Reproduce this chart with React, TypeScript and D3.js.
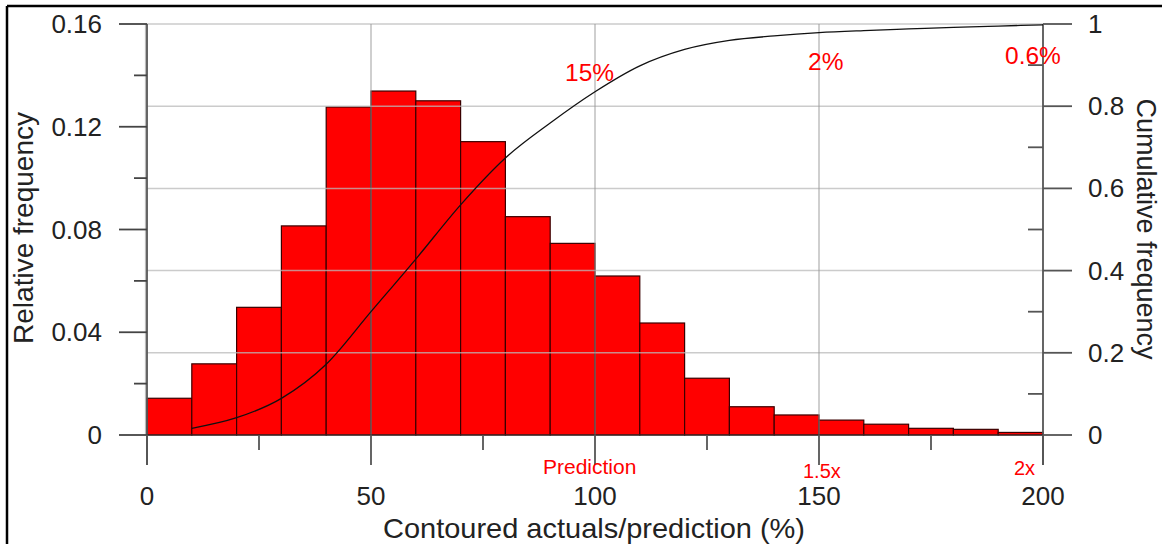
import React from "react";
import * as d3 from "d3";

// ---- data ----
const binStarts = [0, 10, 20, 30, 40, 50, 60, 70, 80, 90, 100, 110, 120, 130, 140, 150, 160, 170, 180, 190];
const binWidth = 10;
const relFreq = [0.0143, 0.0277, 0.0497, 0.0814, 0.1277, 0.1339, 0.1301, 0.1142, 0.085, 0.0746, 0.0619, 0.0436, 0.0221, 0.011, 0.0078, 0.0058, 0.0042, 0.0026, 0.0022, 0.001];
const cumX = [10, 20, 30, 40, 50, 60, 70, 80, 90, 100, 110, 120, 130, 140, 150, 160, 170, 180, 190, 200];
const cumFreq = [0.0163, 0.042, 0.089, 0.172, 0.3, 0.428, 0.56, 0.674, 0.759, 0.835, 0.898, 0.938, 0.96, 0.971, 0.979, 0.984, 0.988, 0.992, 0.995, 0.998];

const xMajorTicks = [0, 50, 100, 150, 200];
const xMinorTicks = [25, 75, 125, 175];
const xGridTicks = [50, 100, 150];
const leftMajorTicks = [0, 0.04, 0.08, 0.12, 0.16];
const leftMinorTicks = [0.02, 0.06, 0.1, 0.14];
const rightMajorTicks = [0, 0.2, 0.4, 0.6, 0.8, 1];
const rightMinorTicks = [0.1, 0.3, 0.5, 0.7, 0.9];
const rightGridTicks = [0.2, 0.4, 0.6, 0.8, 1];

const annotations = [
  { text: "15%", x: 565, y: 81, size: 24.5 },
  { text: "2%", x: 808, y: 70, size: 24.5 },
  { text: "0.6%", x: 1005, y: 63.5, size: 24.5 },
  { text: "Prediction", x: 543, y: 474, size: 21 },
  { text: "1.5x", x: 803, y: 478, size: 20 },
  { text: "2x", x: 1014, y: 475, size: 20 },
];

const FONT = "'Liberation Sans', Arial, Helvetica, sans-serif";

export default function App() {
  const W = 1162;
  const H = 544;
  const x = d3.scaleLinear().domain([0, 200]).range([147, 1043]);
  const yL = d3.scaleLinear().domain([0, 0.16]).range([435, 24]);
  const yR = d3.scaleLinear().domain([0, 1]).range([435, 24]);

  const line = d3
    .line<number>()
    .x((_, i) => x(cumX[i]))
    .y((d) => yR(d))
    .curve(d3.curveMonotoneX);

  const tickColor = "#444";
  const fmtL = (v: number) => (v === 0 ? "0" : d3.format(".2f")(v));
  const fmtR = (v: number) => (v === 0 ? "0" : v === 1 ? "1" : d3.format(".1f")(v));

  return (
    <svg
      width={W}
      height={H}
      style={{ position: "absolute", left: 0, top: 0, background: "#fff" }}
      fontFamily={FONT}
    >
      <rect x={0} y={0} width={W} height={H} fill="#fff" />
      {/* frame */}
      <line x1={7} y1={6} x2={W} y2={6} stroke="#000" strokeWidth={2.5} />
      <line x1={7} y1={6} x2={7} y2={H} stroke="#000" strokeWidth={2.5} />

      {/* bars */}
      {relFreq.map((v, i) => (
        <rect
          key={i}
          x={x(binStarts[i])}
          y={yL(v)}
          width={x(binStarts[i] + binWidth) - x(binStarts[i])}
          height={yL(0) - yL(v)}
          fill="#ff0000"
          stroke="#3a0000"
          strokeWidth={1.2}
        />
      ))}

      {/* grid lines (drawn over bars) */}
      {rightGridTicks.map((t) => (
        <line key={"hg" + t} x1={x(0)} x2={x(200)} y1={yR(t)} y2={yR(t)} stroke="rgba(185,185,185,0.75)" strokeWidth={1.5} />
      ))}
      {xGridTicks.map((t) => (
        <line key={"vg" + t} x1={x(t)} x2={x(t)} y1={yR(1)} y2={yR(0)} stroke="rgba(150,150,150,0.7)" strokeWidth={1.3} />
      ))}

      {/* axes */}
      <line x1={x(0) - 1.5} x2={x(0) - 1.5} y1={yL(0.16)} y2={yL(0)} stroke="#bbb" strokeWidth={1.2} />
      <line x1={x(0)} x2={x(0)} y1={yL(0.16)} y2={465} stroke="#555" strokeWidth={1.8} />
      <line x1={x(200)} x2={x(200)} y1={yR(1)} y2={465} stroke="#555" strokeWidth={1.8} />
      <line x1={x(0)} x2={x(200)} y1={yL(0)} y2={yL(0)} stroke="#333" strokeWidth={1.2} />

      {leftMajorTicks.map((t) => (
        <g key={"lm" + t}>
          <line x1={119} x2={x(0)} y1={yL(t)} y2={yL(t)} stroke={tickColor} strokeWidth={1.8} />
          <text x={102} y={yL(t) + 9} textAnchor="end" fontSize={26} fill="#222">
            {fmtL(t)}
          </text>
        </g>
      ))}
      {leftMinorTicks.map((t) => (
        <line key={"ln" + t} x1={134} x2={x(0)} y1={yL(t)} y2={yL(t)} stroke={tickColor} strokeWidth={1.8} />
      ))}

      {rightMajorTicks.map((t) => (
        <g key={"rm" + t}>
          <line x1={x(200)} x2={1072} y1={yR(t)} y2={yR(t)} stroke="#555" strokeWidth={1.8} />
          <text x={1088} y={yR(t) + 9} textAnchor="start" fontSize={26} fill="#222">
            {fmtR(t)}
          </text>
        </g>
      ))}
      {rightMinorTicks.map((t) => (
        <line key={"rn" + t} x1={1028} x2={x(200)} y1={yR(t)} y2={yR(t)} stroke="#555" strokeWidth={1.8} />
      ))}

      {xMajorTicks.map((t) => (
        <g key={"xm" + t}>
          <line x1={x(t)} x2={x(t)} y1={yL(0)} y2={465} stroke="#555" strokeWidth={1.8} />
          <text x={x(t)} y={505} textAnchor="middle" fontSize={26} fill="#222">
            {t}
          </text>
        </g>
      ))}
      {xMinorTicks.map((t) => (
        <line key={"xn" + t} x1={x(t)} x2={x(t)} y1={yL(0)} y2={450} stroke="#555" strokeWidth={1.8} />
      ))}

      {/* cumulative curve */}
      <path d={line(cumFreq) || ""} fill="none" stroke="#111" strokeWidth={1.3} />

      {/* axis titles */}
      <text x={594} y={538} textAnchor="middle" fontSize={28} fill="#222" textLength={422} lengthAdjust="spacingAndGlyphs">
        Contoured actuals/prediction (%)
      </text>
      <text transform="translate(33,228) rotate(-90)" textAnchor="middle" fontSize={28} fill="#222">
        Relative frequency
      </text>
      <text transform="translate(1137,229) rotate(90)" textAnchor="middle" fontSize={27} fill="#222">
        Cumulative frequency
      </text>

      {/* red annotations */}
      {annotations.map((a) => (
        <text key={a.text} x={a.x} y={a.y} fontSize={a.size} fill="#ff0000">
          {a.text}
        </text>
      ))}
    </svg>
  );
}
